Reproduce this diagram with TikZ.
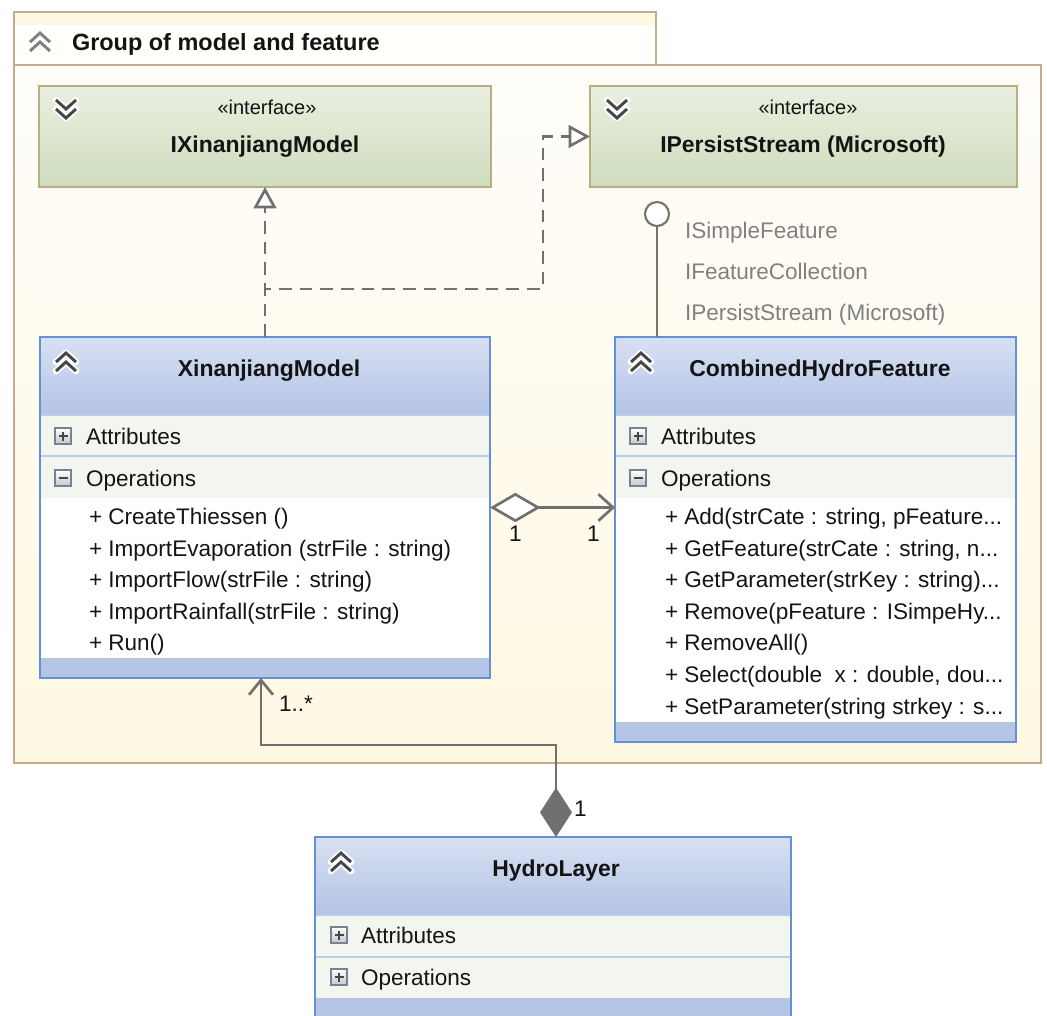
\documentclass[tikz,border=0pt]{standalone}
\usepackage{fontspec}
\setmainfont{Liberation Sans}
\usetikzlibrary{arrows.meta,fit,calc}
\definecolor{grpborder}{RGB}{198,170,140}
\definecolor{grptop}{RGB}{254,253,249}
\definecolor{grpbot}{RGB}{255,248,226}
\definecolor{grpstrip}{RGB}{255,248,226}
\definecolor{grphead}{RGB}{255,255,252}
\definecolor{clsborder}{RGB}{98,146,212}
\definecolor{clstop}{RGB}{216,224,243}
\definecolor{clsbot}{RGB}{180,196,229}
\definecolor{clsband}{RGB}{181,197,230}
\definecolor{rowfill}{RGB}{243,246,239}
\definecolor{rowline}{RGB}{186,204,232}
\definecolor{ifctop}{RGB}{233,239,224}
\definecolor{ifcbot}{RGB}{207,221,190}
\definecolor{ifcborder}{RGB}{184,174,130}
\definecolor{connc}{RGB}{112,112,112}
\definecolor{lolc}{RGB}{120,116,102}
\definecolor{ifcgray}{RGB}{128,128,128}
\definecolor{txtc}{RGB}{20,20,20}
\definecolor{icong}{RGB}{70,70,70}
\definecolor{boxgray}{RGB}{120,130,150}
\newcommand{\chevsup}[3]{%
  \foreach \dy in {-4.5,4.5} {
    \draw[white, line width=5pt, line cap=round, line join=round] (#1-10,#2+\dy+4.5) -- (#1,#2+\dy-4.5) -- (#1+10,#2+\dy+4.5);
  }
  \foreach \dy in {-4.5,4.5} {
    \draw[#3, line width=2.2pt] (#1-10,#2+\dy+4.5) -- (#1,#2+\dy-4.5) -- (#1+10,#2+\dy+4.5);
  }
}
\newcommand{\chevsdown}[3]{%
  \foreach \dy in {-4.5,4.5} {
    \draw[white, line width=5pt, line cap=round, line join=round] (#1-10,#2+\dy-4.5) -- (#1,#2+\dy+4.5) -- (#1+10,#2+\dy-4.5);
  }
  \foreach \dy in {-4.5,4.5} {
    \draw[#3, line width=2.2pt] (#1-10,#2+\dy-4.5) -- (#1,#2+\dy+4.5) -- (#1+10,#2+\dy-4.5);
  }
}
\newcommand{\pmbox}[3]{% x y plus(1)/minus(0)
  \shade[top color=white, bottom color=black!22, draw=boxgray, line width=0.9pt] (#1-8,#2-8) rectangle (#1+8,#2+8);
  \draw[icong, line width=1.4pt] (#1-4.5,#2) -- (#1+4.5,#2);
  \ifnum#3=1 \draw[icong, line width=1.4pt] (#1,#2-4.5) -- (#1,#2+4.5);\fi
}
\begin{document}
\begin{tikzpicture}[x=0.75pt,y=-0.75pt,
  boxfit/.style={inner sep=0pt, outer sep=0pt},
  lbl/.style={inner sep=0pt, outer sep=0pt, anchor=base west, text=txtc, font=\fontsize{16.9pt}{20pt}\selectfont},
  ttl/.style={inner sep=0pt, outer sep=0pt, anchor=base, text=txtc, font=\fontsize{17.2pt}{20pt}\selectfont\bfseries},
  stereo/.style={inner sep=0pt, outer sep=0pt, anchor=base, text=txtc, font=\fontsize{15pt}{18pt}\selectfont},
  ifclbl/.style={lbl, text=ifcgray},
  conn/.style={draw=connc, line width=2pt},
  real/.style={conn, dash pattern=on 9.5pt off 6pt},
  clsline/.style={draw=clsborder, line width=1.8pt},
  ifcline/.style={draw=ifcborder, line width=1.8pt}
]
\useasboundingbox (0,0) rectangle (1047,1015);
\fill[white] (0,0) rectangle (1047,1015);

% ---------- group frame ----------
\shade[top color=grptop, bottom color=grpbot] (14,65) rectangle (1041,763);
\fill[grpstrip] (14,12) rectangle (656,25);
\fill[grphead] (14,25) rectangle (656,65);
\draw[grpborder, line width=1.5pt] (14,65) rectangle (1041,763);
\draw[grpborder, line width=1.5pt] (14,65) -- (14,12) -- (656,12) -- (656,65);
\node[boxfit, fit={(14,12) (1041,763)}] (grp) {};
\chevsup{40}{42}{black!50}
\node[ttl, anchor=base west, font=\fontsize{17.6pt}{21pt}\selectfont\bfseries] (grpttl) at (72,50) {Group of model and feature};

% ---------- interface IXinanjiangModel ----------
\shade[top color=ifctop, bottom color=ifcbot] (39,86) rectangle (491,187);
\draw[ifcline] (39,86) rectangle (491,187);
\node[boxfit, fit={(39,86) (491,187)}] (ixm) {};
\chevsdown{66}{109}{icong}
\node[stereo] (ixms) at (267,114) {«interface»};
\node[ttl] (ixmt) at (265,152) {IXinanjiangModel};

% ---------- interface IPersistStream ----------
\shade[top color=ifctop, bottom color=ifcbot] (590,86) rectangle (1017,187);
\draw[ifcline] (590,86) rectangle (1017,187);
\node[boxfit, fit={(590,86) (1017,187)}] (ips) {};
\chevsdown{617}{109}{icong}
\node[stereo] (ipss) at (808,114) {«interface»};
\node[ttl] (ipst) at (803,152) {IPersistStream (Microsoft)};

% ---------- class XinanjiangModel ----------
\shade[top color=clstop, bottom color=clsbot] (40,337) rectangle (490,415);
\fill[rowfill] (40,415) rectangle (490,498);
\draw[rowline, line width=1.2pt] (40,415) -- (490,415);
\draw[rowline, line width=1.2pt] (40,456) -- (490,456);
\fill[white] (40,498) rectangle (490,658);
\fill[clsband] (40,658) rectangle (490,678);
\draw[clsline] (40,337) rectangle (490,678);
\node[boxfit, fit={(40,337) (490,678)}] (xm) {};
\chevsup{66}{362}{icong}
\node[ttl] (xmt) at (269,376) {XinanjiangModel};
\pmbox{63}{436}{1}
\node[lbl] (xma) at (86,444) {Attributes};
\pmbox{63}{478}{0}
\node[lbl] (xmo) at (86,486) {Operations};
\node[lbl] (xm1) at (89,524) {+ CreateThiessen ()};
\node[lbl] (xm2) at (89,556) {+ ImportEvaporation (strFile : string)};
\node[lbl] (xm3) at (89,587) {+ ImportFlow(strFile : string)};
\node[lbl] (xm4) at (89,619) {+ ImportRainfall(strFile : string)};
\node[lbl] (xm5) at (89,650) {+ Run()};

% ---------- class CombinedHydroFeature ----------
\shade[top color=clstop, bottom color=clsbot] (615,337) rectangle (1016,415);
\fill[rowfill] (615,415) rectangle (1016,498);
\draw[rowline, line width=1.2pt] (615,415) -- (1016,415);
\draw[rowline, line width=1.2pt] (615,456) -- (1016,456);
\fill[white] (615,498) rectangle (1016,722);
\fill[clsband] (615,722) rectangle (1016,742);
\draw[clsline] (615,337) rectangle (1016,742);
\node[boxfit, fit={(615,337) (1016,742)}] (chf) {};
\chevsup{641}{362}{icong}
\node[ttl] (chft) at (820,376) {CombinedHydroFeature};
\pmbox{638}{436}{1}
\node[lbl] (chfa) at (661,444) {Attributes};
\pmbox{638}{478}{0}
\node[lbl] (chfo) at (661,486) {Operations};
\node[lbl] (chf1) at (665,524) {+ Add(strCate : string, pFeature...};
\node[lbl] (chf2) at (665,556) {+ GetFeature(strCate : string, n...};
\node[lbl] (chf3) at (665,587) {+ GetParameter(strKey : string)...};
\node[lbl] (chf4) at (665,619) {+ Remove(pFeature : ISimpeHy...};
\node[lbl] (chf5) at (665,650) {+ RemoveAll()};
\node[lbl] (chf6) at (665,682) {+ Select(double\ \ x : double, dou...};
\node[lbl] (chf7) at (665,714) {+ SetParameter(string strkey : s...};

% ---------- class HydroLayer ----------
\shade[top color=clstop, bottom color=clsbot] (315,837) rectangle (791,915);
\fill[rowfill] (315,915) rectangle (791,998);
\draw[rowline, line width=1.2pt] (315,915) -- (791,915);
\draw[rowline, line width=1.2pt] (315,957) -- (791,957);
\fill[clsband] (315,998) rectangle (791,1016);
\draw[clsline] (315,1020) -- (315,837) -- (791,837) -- (791,1020);
\node[boxfit, fit={(315,837) (791,1015)}] (hl) {};
\chevsup{341}{862}{icong}
\node[ttl] (hlt) at (556,876) {HydroLayer};
\pmbox{339}{935}{1}
\node[lbl] (hla) at (361,943) {Attributes};
\pmbox{339}{977}{1}
\node[lbl] (hlo) at (361,985) {Operations};

% ---------- lollipop ----------
\node[circle, draw=lolc, line width=1.6pt, fill=white, minimum size=18pt, inner sep=0pt] (lol) at (657,214) {};
\draw[draw=lolc, line width=1.8pt] (lol.south) -- (lol.south |- chf.north);
\node[ifclbl] (if1) at (685,238) {ISimpleFeature};
\node[ifclbl] (if2) at (685,279) {IFeatureCollection};
\node[ifclbl] (if3) at (685,320) {IPersistStream (Microsoft)};

% ---------- realizations ----------
\draw[real, -{Triangle[length=16pt, width=17pt, fill=white]}] (xm.north) -- (ixm.south);
\draw[real, -{Triangle[length=16pt, width=17pt, fill=white]}] (xm.north) -- ++(0,-48) -| ($(ips.west)+(-47,0)$) -- (ips.west);

% ---------- aggregation ----------
\draw[conn, {Diamond[length=38pt, width=22pt, fill=white]}-{Straight Barb[length=11pt, width=20pt]}] (xm.east) -- (xm.east -| chf.west);
\node[lbl] (m1) at (509,541) {1};
\node[lbl] (m2) at (587,541) {1};

% ---------- composition ----------
\draw[conn, {Diamond[length=37pt, width=24pt, fill=connc]}-{Straight Barb[length=11pt, width=18pt]}] ($(hl.north)+(3,0)$) -- ++(0,-92) -| ($(xm.south)+(-4,0)$);
\node[lbl] (m3) at (279,711) {1..*};
\node[lbl] (m4) at (574,816) {1};
\end{tikzpicture}
\end{document}
